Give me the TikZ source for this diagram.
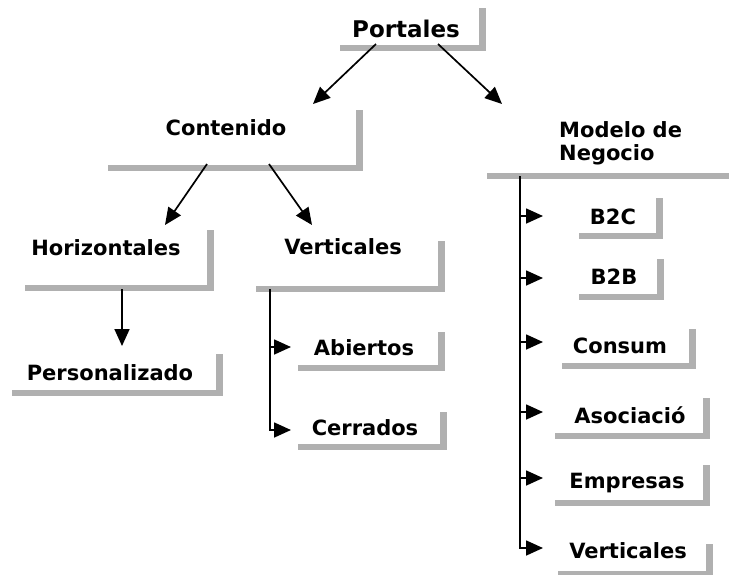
\documentclass[tikz,border=0pt]{standalone}
\usepackage{fontspec}
\setmainfont{DejaVu Sans}
\usetikzlibrary{arrows.meta}
\definecolor{barcol}{RGB}{176,176,176}
\newcommand\shadowL[4]{%
  \fill[barcol] (#1,#4-6) rectangle (#3,#4);
  \fill[barcol] (#3-7,#2) rectangle (#3,#4);}
\tikzset{
  lbl/.style={font=\bfseries\fontsize{21}{23}\selectfont, inner sep=0pt, anchor=base},
  conn/.style={line width=1.7pt, -{Triangle[length=17pt,width=15pt]}},
}
\begin{document}
\begin{tikzpicture}[x=1pt,y=-1pt]
\useasboundingbox (0,0) rectangle (729,574);
\begin{scope}
\clip (0,0) rectangle (729,574);
% shadow bars
\shadowL{340}{8}{486}{51}
\shadowL{108}{110}{363}{171}
\fill[barcol] (487,173) rectangle (729,179);
\shadowL{25}{230}{214}{291}
\shadowL{12}{354}{223}{396}
\shadowL{256}{241}{445}{292}
\shadowL{298}{332}{445}{371}
\shadowL{298}{412}{447}{450}
\shadowL{579}{198}{663}{239}
\shadowL{579}{259}{664}{300}
\shadowL{562}{329}{696}{369}
\shadowL{555}{398}{710}{439}
\shadowL{555}{465}{710}{506}
\shadowL{558}{544}{713}{577}
\end{scope}
% labels
\node[lbl, font=\bfseries\fontsize{23}{25}\selectfont] (portales) at (406,37) {Portales};
\node[lbl] (contenido) at (226,135) {Contenido};
\node[font=\bfseries\fontsize{21}{23}\selectfont, inner sep=0pt, anchor=north west, align=left] (modelo) at (559,121) {Modelo de\\Negocio};
\node[lbl] (horiz) at (106,255) {Horizontales};
\node[lbl] (personal) at (110,380) {Personalizado};
\node[lbl] (verticales) at (343,254) {Verticales};
\node[lbl] (abiertos) at (364,355) {Abiertos};
\node[lbl] (cerrados) at (365,435) {Cerrados};
\node[lbl] (btoc) at (613,224) {B2C};
\node[lbl] (btob) at (614,284) {B2B};
\node[lbl] (consum) at (620,353) {Consum};
\node[lbl] (asoc) at (630,423) {Asociació};
\node[lbl] (empresas) at (627,488) {Empresas};
\node[lbl] (verticalesb) at (628,558) {Verticales};
% connector coordinates
\coordinate (p1) at (376,44);
\coordinate (p2) at (438,44);
\coordinate (pc) at (313,104);
\coordinate (pm) at (502,104);
\coordinate (c1) at (207,164);
\coordinate (c2) at (269,164);
\coordinate (ch) at (165,225);
\coordinate (cv) at (312,225);
\coordinate (h1) at (122,289);
\coordinate (hp) at (122,346);
\coordinate (v0) at (270,289);
\coordinate (va) at (291,347);
\coordinate (vc) at (291,430);
\coordinate (m0) at (520,176);
\coordinate (m1) at (543,216);
\coordinate (m2) at (543,278);
\coordinate (m3) at (543,342);
\coordinate (m4) at (543,412);
\coordinate (m5) at (543,478);
\coordinate (m6) at (543,548);
% connectors
\draw[conn] (p1) -- (pc);
\draw[conn] (p2) -- (pm);
\draw[conn] (c1) -- (ch);
\draw[conn] (c2) -- (cv);
\draw[conn] (h1) -- (hp);
\draw[conn] (v0) |- (vc);
\draw[conn] (v0 |- va) -- (va);
\draw[conn] (m0) |- (m6);
\draw[conn] (m0 |- m1) -- (m1);
\draw[conn] (m0 |- m2) -- (m2);
\draw[conn] (m0 |- m3) -- (m3);
\draw[conn] (m0 |- m4) -- (m4);
\draw[conn] (m0 |- m5) -- (m5);
\end{tikzpicture}
\end{document}
